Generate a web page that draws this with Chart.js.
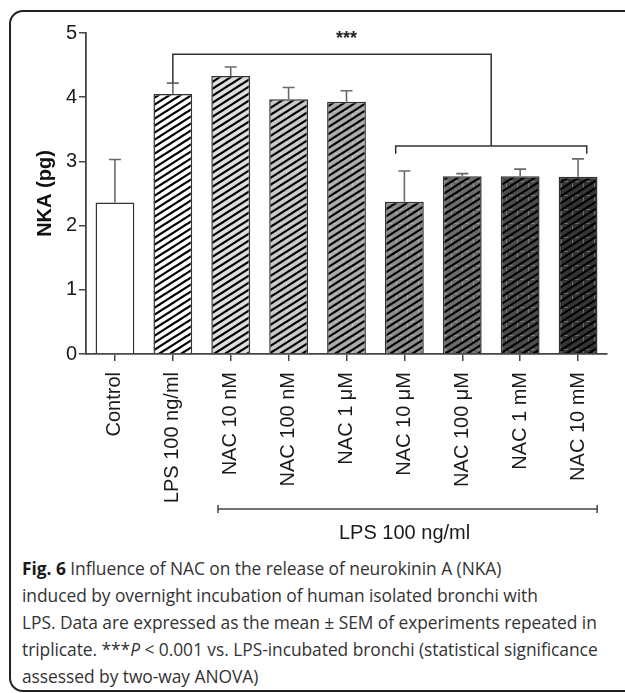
<!doctype html>
<html lang="en">
<head>
<meta charset="utf-8">
<title>Fig. 6 NKA release</title>
<script src="https://cdn.jsdelivr.net/npm/chart.js@4.4.1/dist/chart.umd.min.js"></script>
<style>
  * { box-sizing: border-box; }
  html, body { margin: 0; padding: 0; background: #fff; }
  body { width: 625px; height: 693px; position: relative; overflow: hidden; }
  .frame {
    position: absolute;
    left: 9px; top: 10px;
    width: 700px; height: 682px;
    border: 2px solid #222;
    border-radius: 14px;
  }
  .chart-wrap { position: absolute; left: 0; top: 0; width: 625px; height: 550px; }
  .caption {
    position: absolute;
    left: 22px; top: 555px;
    font-family: 'Open Sans', 'Noto Sans', sans-serif;
    font-size: 17.4px;
    line-height: 27px;
    color: #333;
    white-space: nowrap;
    letter-spacing: -0.05px;
  }
  .caption b { color: #1a1a1a; }
</style>
</head>
<body>
<div class="frame"></div>
<div class="chart-wrap"><canvas id="nka"></canvas></div>
<div class="caption">
  <b>Fig. 6</b> Influence of NAC on the release of neurokinin A (NKA)<br>
  induced by overnight incubation of human isolated bronchi with<br>
  LPS. Data are expressed as the mean ± SEM of experiments repeated in<br>
  triplicate. ***<i>P</i> &lt; 0.001 vs. LPS-incubated bronchi (statistical significance<br>
  assessed by two-way ANOVA)
</div>
<script>
// data
var categories = ['Control', 'LPS 100 ng/ml', 'NAC 10 nM', 'NAC 100 nM', 'NAC 1 μM',
  'NAC 10 μM', 'NAC 100 μM', 'NAC 1 mM', 'NAC 10 mM'];
var means = [2.36, 4.05, 4.33, 3.97, 3.93, 2.37, 2.77, 2.77, 2.76];
var sems = [0.67, 0.17, 0.14, 0.18, 0.17, 0.48, 0.04, 0.11, 0.28];
var yTicks = [0, 1, 2, 3, 4, 5];

// significance bracket (category index / value units)
var topBracket = { from: 1, to: 6.5, level: 4.67 };
var lowBracket = { from: 4.85, to: 8.15, level: 3.24, tip: 3.12 };
var stars = { label: '***', at: 4, level: 4.9 };
var groupBar = { from: 1.78, to: 8.33, label: 'LPS 100 ng/ml' };

// bar looks: base shade, hatch, grid overlay
var shades = ['#ffffff', '#ffffff', '#dedede', '#c9c9c9', '#ababab', '#8c8c8c', '#6c6c6c', '#4b4b4b', '#343434'];
var hatched = [false, true, true, true, true, true, true, true, true];
var gridded = [false, false, false, true, true, true, true, true, true];

var FONT = "'Liberation Sans', Arial, Helvetica, sans-serif";

function makeFill(bg, hatch, grid) {
  if (!hatch) return bg;
  var tile = document.createElement('canvas');
  tile.width = 11; tile.height = 14;
  var t = tile.getContext('2d');
  t.fillStyle = bg;
  t.fillRect(0, 0, 11, 14);
  if (grid) {
    t.fillStyle = 'rgba(255,255,255,0.28)';
    t.fillRect(0, 0, 1, 7);
    t.fillRect(0, 13, 7, 1);
  }
  t.strokeStyle = '#000';
  t.lineWidth = 2.3;
  for (var k = -1; k <= 3; k++) {
    t.beginPath();
    t.moveTo(-1, 7 * k + 7 + 7 / 11);
    t.lineTo(12, 7 * k - 7 / 11);
    t.stroke();
  }
  return t.createPattern(tile, 'repeat');
}

var fills = shades.map(function (c, i) { return makeFill(c, hatched[i], gridded[i]); });

var marks = {
  id: 'marks',
  afterDatasetsDraw: function (chart) {
    var ctx = chart.ctx;
    var xs = chart.scales.x;
    var ys = chart.scales.y;
    var meta = chart.getDatasetMeta(0);
    ctx.save();

    // error bars (upper half only)
    ctx.strokeStyle = '#6a6a6a';
    ctx.lineWidth = 1.6;
    meta.data.forEach(function (bar, i) {
      var base = ys.getPixelForValue(means[i]);
      var top = ys.getPixelForValue(means[i] + sems[i]);
      ctx.beginPath();
      ctx.moveTo(bar.x, base);
      ctx.lineTo(bar.x, top);
      ctx.moveTo(bar.x - 6, top);
      ctx.lineTo(bar.x + 6, top);
      ctx.stroke();
    });

    // brackets
    ctx.strokeStyle = '#333';
    ctx.lineWidth = 1.5;
    var tl = xs.getPixelForValue(topBracket.from);
    var tr = xs.getPixelForValue(topBracket.to);
    var ty = ys.getPixelForValue(topBracket.level);
    ctx.beginPath();
    ctx.moveTo(tl, ys.getPixelForValue(means[1] + sems[1]));
    ctx.lineTo(tl, ty);
    ctx.lineTo(tr, ty);
    ctx.lineTo(tr, ys.getPixelForValue(lowBracket.level));
    ctx.stroke();

    var ll = xs.getPixelForValue(lowBracket.from);
    var lr = xs.getPixelForValue(lowBracket.to);
    var ly = ys.getPixelForValue(lowBracket.level);
    var lt = ys.getPixelForValue(lowBracket.tip);
    ctx.beginPath();
    ctx.moveTo(ll, lt);
    ctx.lineTo(ll, ly);
    ctx.lineTo(lr, ly);
    ctx.lineTo(lr, lt);
    ctx.stroke();

    ctx.fillStyle = '#222';
    ctx.font = 'bold 18px ' + FONT;
    ctx.textAlign = 'center';
    ctx.textBaseline = 'middle';
    ctx.fillText(stars.label, xs.getPixelForValue(stars.at), ys.getPixelForValue(stars.level));

    // group line under the x labels
    var gy = chart.chartArea.bottom + 155;
    var gl = xs.getPixelForValue(groupBar.from);
    var gr = xs.getPixelForValue(groupBar.to);
    ctx.strokeStyle = '#444';
    ctx.lineWidth = 1.5;
    ctx.beginPath();
    ctx.moveTo(gl, gy);
    ctx.lineTo(gr, gy);
    ctx.moveTo(gl, gy - 4);
    ctx.lineTo(gl, gy + 4);
    ctx.moveTo(gr, gy - 4);
    ctx.lineTo(gr, gy + 4);
    ctx.stroke();
    ctx.font = '20px ' + FONT;
    ctx.fillStyle = '#1a1a1a';
    ctx.fillText(groupBar.label, (gl + gr) / 2 - 3, gy + 24);

    ctx.restore();
  }
};

new Chart(document.getElementById('nka'), {
  type: 'bar',
  data: {
    labels: categories,
    datasets: [{
      data: means,
      backgroundColor: fills,
      borderColor: '#333',
      borderWidth: 1.5,
      barPercentage: 0.67,
      categoryPercentage: 1.0,
    }],
  },
  options: {
    responsive: true,
    maintainAspectRatio: false,
    animation: false,
    layout: { padding: { top: 33, right: 18, left: 0, bottom: 0 } },
    plugins: { legend: { display: false }, tooltip: { enabled: false } },
    scales: {
      x: {
        afterFit: function (s) { s.height = 196; },
        grid: { display: true, drawOnChartArea: false, offset: false, tickLength: 7, color: '#444', lineWidth: 1.5 },
        border: { display: true, color: '#444', width: 1.8 },
        ticks: { color: '#1a1a1a', font: { family: FONT, size: 20 }, minRotation: 90, maxRotation: 90, padding: 11 },
      },
      y: {
        min: 0,
        max: 5,
        afterFit: function (s) { s.width = 86; },
        afterBuildTicks: function (s) { s.ticks = yTicks.map(function (v) { return { value: v }; }); },
        grid: { display: true, drawOnChartArea: false, tickLength: 7, color: '#444', lineWidth: 1.5 },
        border: { display: true, color: '#444', width: 1.8 },
        ticks: { color: '#1a1a1a', font: { family: FONT, size: 20 }, padding: 2 },
        title: {
          display: true,
          text: 'NKA (pg)',
          color: '#111',
          font: { family: FONT, size: 20, weight: 'bold' },
          padding: { top: 33, bottom: 0 },
        },
      },
    },
  },
  plugins: [marks],
});
</script>
</body>
</html>
